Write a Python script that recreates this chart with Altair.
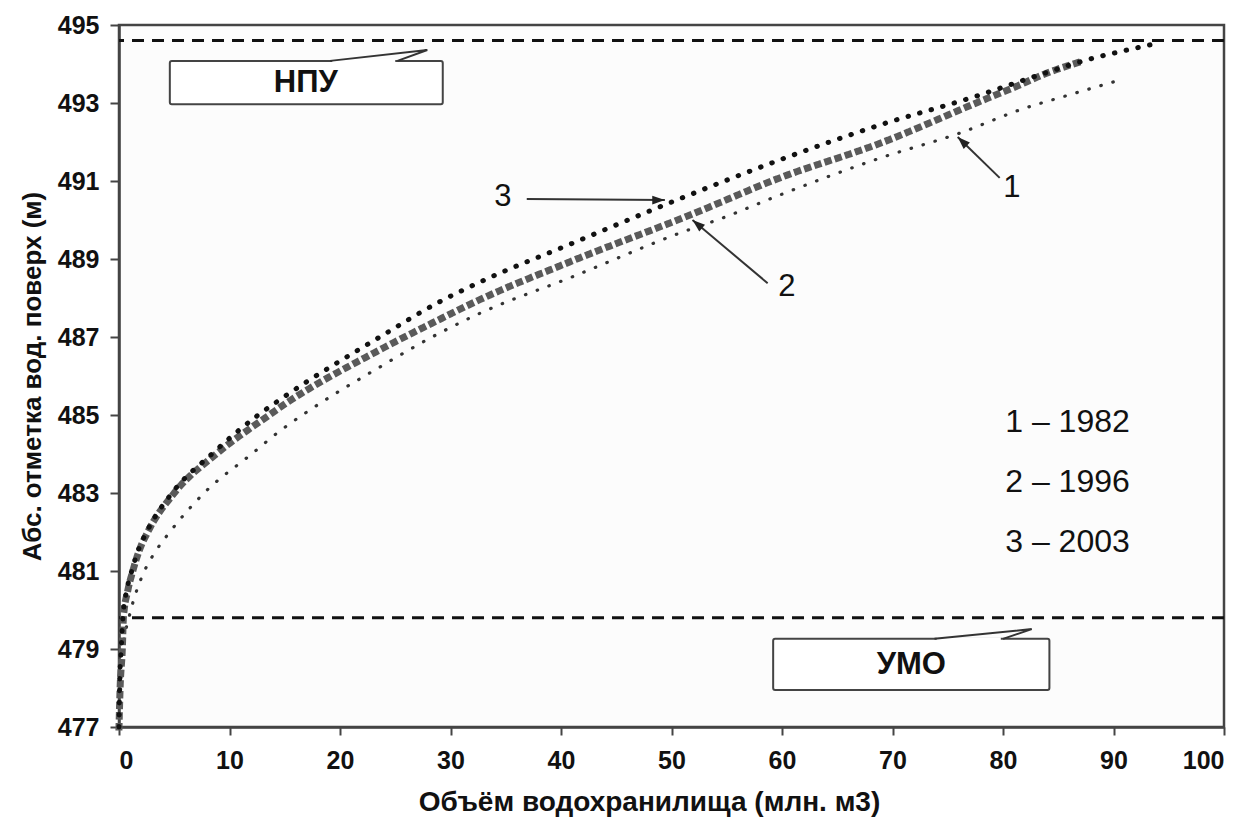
import altair as alt
import pandas as pd

# ---- data: volume (mln m3) vs water level (m) ----
v1982 = [0, 0.15, 0.35, 0.9, 1.6, 2.3, 3.3, 4.6, 7.7, 12.0, 14.6, 16.6, 23.6, 29.0,
         32.6, 41.0, 50.8, 54.6, 59.8, 68.9, 76.1, 81.8, 85.9, 90.0]
h1982 = [477, 478, 479, 479.8, 480.5, 481, 481.5, 482, 483, 484, 484.6, 485, 486.23, 487.1,
         487.6, 488.54, 489.67, 490.05, 490.64, 491.59, 492.23, 492.85, 493.2, 493.54]

v1996 = [0, 0.1, 0.3, 0.4, 0.8, 1.25, 1.8, 2.6, 5.0, 8.8, 13.6, 14.6, 23.6, 29.0,
         32.6, 41.0, 51.7, 59.8, 68.9, 78.0, 81.0, 84.0, 86.7]
h1996 = [477, 478, 479, 479.8, 480.5, 481, 481.5, 482, 483, 484, 485, 485.2, 486.67, 487.45,
         487.95, 488.95, 490.13, 491.08, 491.97, 493.05, 493.4, 493.77, 494.03]

v2003 = [0, 0.05, 0.2, 0.35, 0.7, 1.15, 1.7, 2.5, 4.8, 8.4, 12.6, 14.6, 23.6, 29.0,
         32.6, 41.0, 50.8, 59.8, 68.9, 77.3, 83.3, 87.9, 90.8, 93.3]
h2003 = [477, 478, 479, 479.8, 480.5, 481, 481.5, 482, 483, 484, 485, 485.4, 487.0, 487.9,
         488.4, 489.4, 490.55, 491.54, 492.44, 493.15, 493.72, 494.13, 494.33, 494.49]

level_names = ["НПУ", "УМО"]
level_values = [494.6, 479.8]

legend_lines = ["1 – 1982", "2 – 1996", "3 – 2003"]
curve_labels = ["1", "2", "3"]

x_ticks = list(range(0, 101, 10))
y_ticks = list(range(477, 496, 2))

FONT = "Liberation Sans"

X = alt.X("v:Q", scale=alt.Scale(domain=[0, 100], nice=False, zero=False),
          axis=alt.Axis(values=x_ticks, title="Объём водохранилища (млн. м3)", grid=False,
                        labelFontSize=25, labelFontWeight="bold", labelPadding=13,
                        tickSize=8, titleFontSize=28, titleFontWeight="bold",
                        titlePadding=15, titleX=530))
Y = alt.Y("h:Q", scale=alt.Scale(domain=[477, 495], nice=False, zero=False),
          axis=alt.Axis(values=y_ticks, title="Абс. отметка вод. поверх (м)", grid=False,
                        labelFontSize=25, labelFontWeight="bold", labelPadding=11,
                        tickSize=9, titleFontSize=26, titleFontWeight="bold",
                        titlePadding=12))


def frame(vs, hs):
    return pd.DataFrame({"v": vs, "h": hs, "o": list(range(len(vs)))})


d1 = frame(v1982, h1982)
d2 = frame(v1996, h1996)
d3 = frame(v2003, h2003)

levels = pd.DataFrame({"name": level_names, "h": level_values})
dashed = alt.Chart(levels).mark_rule(color="#111", strokeWidth=3, strokeDash=[12, 8]).encode(y=Y)

c1 = alt.Chart(d1).mark_line(color="#333", strokeWidth=3.2, strokeCap="round",
                             strokeDash=[0.5, 12], interpolate="monotone").encode(x=X, y=Y, order="o:Q")
c2 = alt.Chart(d2).mark_line(color="#5a5a5a", strokeWidth=7, strokeCap="square",
                             strokeDash=[0.5, 10.2], interpolate="monotone").encode(x=X, y=Y, order="o:Q")
c3 = alt.Chart(d3).mark_line(color="#111", strokeWidth=5, strokeCap="round",
                             strokeDash=[0.5, 11.5], interpolate="monotone").encode(x=X, y=Y, order="o:Q")

# ---- callout boxes ----
boxes = pd.DataFrame({"name": level_names,
                      "x1": [4.6, 59.2], "x2": [29.3, 84.2],
                      "y1": [494.08, 479.26], "y2": [492.97, 477.95],
                      "tx": [16.9, 71.7], "ty": [493.52, 478.6]})
box = alt.Chart(boxes).mark_rect(fill="white", stroke="#444", strokeWidth=2, cornerRadius=2).encode(
    x=alt.X("x1:Q", scale=alt.Scale(domain=[0, 100])), x2="x2:Q",
    y=alt.Y("y1:Q", scale=alt.Scale(domain=[477, 495])), y2="y2:Q")
box_text = alt.Chart(boxes).mark_text(font=FONT, fontSize=31, fontWeight="bold", color="#111",
                                      align="center", baseline="middle").encode(
    x=alt.X("tx:Q", scale=alt.Scale(domain=[0, 100])),
    y=alt.Y("ty:Q", scale=alt.Scale(domain=[477, 495])), text="name:N")

gap = pd.DataFrame({"g": ["a", "a", "b", "b"], "v": [19.3, 25.0, 74.0, 79.8],
                    "h": [494.08, 494.08, 479.26, 479.26], "o": [0, 1, 0, 1]})
gap_line = alt.Chart(gap).mark_line(color="white", strokeWidth=3).encode(
    x=X, y=Y, detail="g:N", order="o:Q")

wedge = pd.DataFrame({"g": ["a"] * 3 + ["b"] * 3,
                      "v": [19.1, 27.9, 25.2, 73.8, 82.6, 80.0],
                      "h": [494.08, 494.36, 494.08, 479.26, 479.51, 479.26],
                      "o": [0, 1, 2, 0, 1, 2]})
wedge_line = alt.Chart(wedge).mark_line(color="#333", strokeWidth=2).encode(
    x=X, y=Y, detail="g:N", order="o:Q")

# ---- curve labels with arrows ----
arrows = pd.DataFrame({"g": ["1", "1", "2", "2", "3", "3"],
                       "v": [79.7, 75.9, 58.7, 51.9, 36.9, 49.4],
                       "h": [491.08, 492.13, 488.38, 490.0, 490.54, 490.51],
                       "o": [0, 1, 0, 1, 0, 1]})
arrow_lines = alt.Chart(arrows).mark_line(color="#333", strokeWidth=2).encode(
    x=X, y=Y, detail="g:N", order="o:Q")
heads = pd.DataFrame({"v": [75.9, 51.9, 49.4], "h": [492.13, 490.0, 490.51],
                      "a": [224, 220, 0]})
arrow_heads = alt.Chart(heads).mark_point(
    shape="M0,0 L-1.7,-0.6 L-1.7,0.6 Z", filled=True, color="#222", size=220, opacity=1
).encode(x=X, y=Y, angle=alt.Angle("a:Q", scale=None))

labels = pd.DataFrame({"t": curve_labels, "v": [80.8, 60.45, 34.75],
                       "h": [490.82, 488.28, 490.59]})
label_text = alt.Chart(labels).mark_text(font=FONT, fontSize=31, color="#111",
                                         align="center", baseline="middle").encode(
    x=X, y=Y, text="t:N")

leg = pd.DataFrame({"t": legend_lines, "v": [80.2, 80.2, 80.2], "h": [484.82, 483.28, 481.74]})
leg_text = alt.Chart(leg).mark_text(font=FONT, fontSize=32, color="#111",
                                    align="left", baseline="middle").encode(x=X, y=Y, text="t:N")

chart = alt.layer(
    dashed, c1, c2, c3, box, gap_line, wedge_line, box_text,
    arrow_lines, arrow_heads, label_text, leg_text
).properties(
    width=1105, height=702,
    padding={"left": 111, "top": 17, "right": 16, "bottom": 90},
    autosize=alt.AutoSizeParams(type="none"),
    background="white",
).configure_view(
    stroke="#444", strokeWidth=2.5, fill="#fcfcfc"
).configure_axis(
    domainColor="#444", domainWidth=2.5, tickColor="#444", tickWidth=2,
    labelColor="#111", titleColor="#111", labelFont=FONT, titleFont=FONT
)

chart.save("out.html", embed_options={"renderer": "svg", "actions": False})
